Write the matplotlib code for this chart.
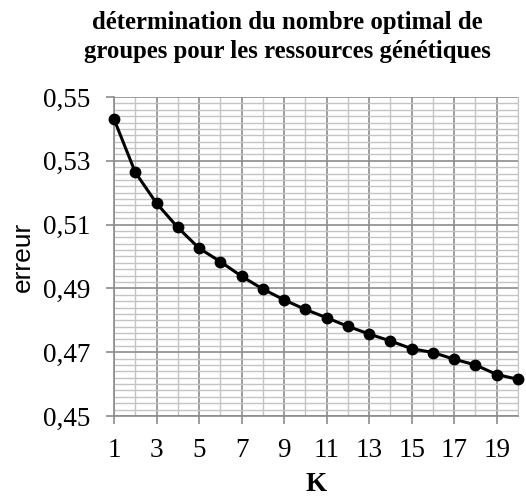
import matplotlib.pyplot as plt
from matplotlib.ticker import FixedLocator, FuncFormatter

# erreur en fonction du nombre de groupes K
k = list(range(1, 21))
erreur = [0.5431, 0.5264, 0.5167, 0.5091, 0.5026, 0.4984, 0.4938, 0.4898, 0.4864, 0.4834,
          0.4808, 0.4781, 0.4757, 0.4735, 0.4711, 0.4699, 0.4678, 0.4660, 0.4630, 0.4615]
x_ticks = [1, 3, 5, 7, 9, 11, 13, 15, 17, 19]
y_ticks = [0.45, 0.47, 0.49, 0.51, 0.53, 0.55]
titre = "détermination du nombre optimal de\ngroupes pour les ressources génétiques"

fig = plt.figure(figsize=(5.26, 4.98), dpi=100)
ax = fig.add_axes([0.2167, 0.1647, 0.7681, 0.6405])

ax.plot(k, erreur, color="black", lw=2.2, marker="o", ms=7.5, zorder=5, clip_on=False)

ax.set_xlim(1, 20)
ax.set_ylim(0.45, 0.55)
ax.xaxis.set_major_locator(FixedLocator(x_ticks))
ax.xaxis.set_minor_locator(FixedLocator([v for v in k if v not in x_ticks]))
ax.yaxis.set_major_locator(FixedLocator(y_ticks))
ax.yaxis.set_minor_locator(FixedLocator([0.45 + i * 0.002 for i in range(51)]))
ax.yaxis.set_major_formatter(FuncFormatter(lambda v, p: f"{v:.2f}".replace(".", ",")))

ax.grid(which="minor", color="#c4c4c4", lw=1.0)
ax.grid(which="major", color="#8c8c8c", lw=1.2)
ax.set_axisbelow(True)
ax.spines["top"].set_visible(False)
ax.spines["right"].set_color("#c4c4c4")
for s in ["left", "bottom"]:
    ax.spines[s].set_color("#8c8c8c")
    ax.spines[s].set_linewidth(1.2)
ax.tick_params(which="major", length=6, color="#8c8c8c", width=1.2, labelsize=19.5)
ax.tick_params(axis="y", which="major", pad=11)
ax.tick_params(axis="x", which="major", pad=10)
ax.tick_params(which="minor", length=0)
for lab in ax.get_xticklabels() + ax.get_yticklabels():
    lab.set_family("Liberation Serif")

ax.set_xlabel("K", family="Liberation Serif", fontweight="bold", fontsize=19.5, labelpad=6)
ax.set_ylabel("erreur", family="Liberation Sans", fontsize=19, labelpad=6)

fig.text(0.546, 0.977, titre, ha="center", va="top", family="Liberation Serif",
         fontweight="bold", fontsize=17.8, linespacing=1.3)

plt.savefig("out.png")
